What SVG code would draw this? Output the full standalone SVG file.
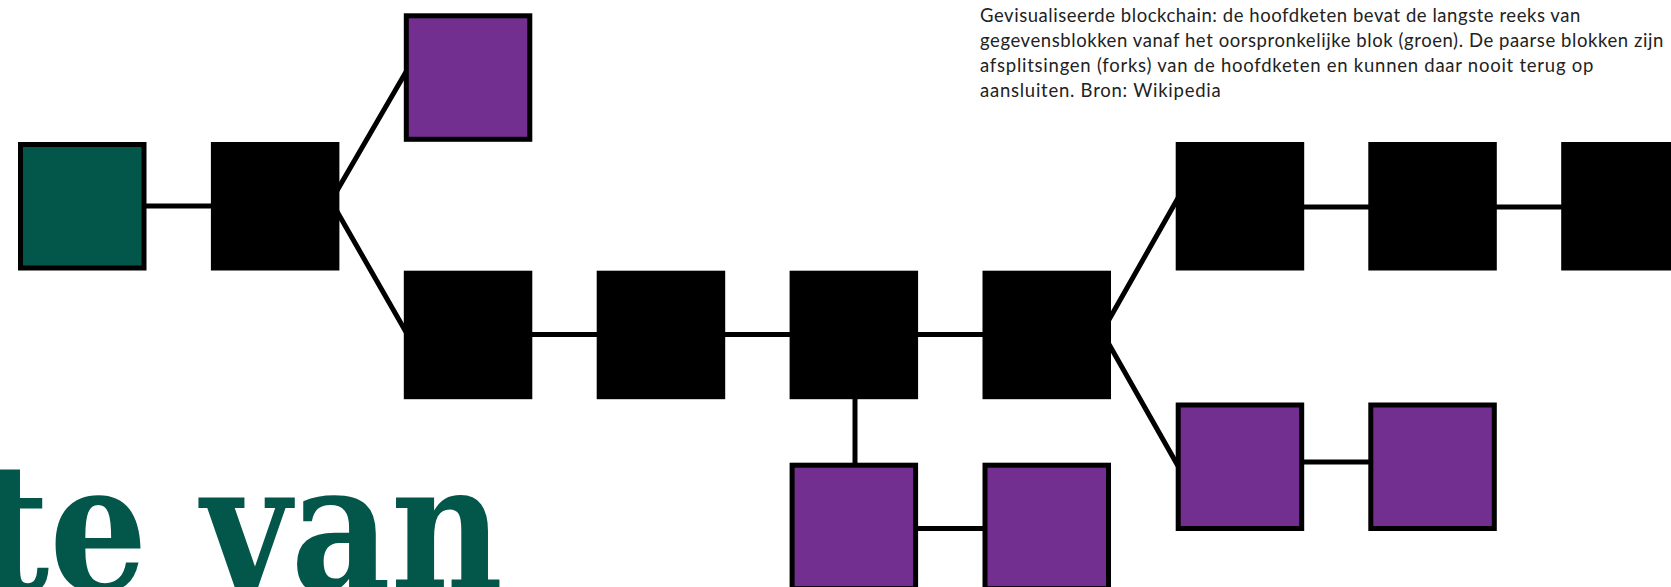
<svg xmlns="http://www.w3.org/2000/svg" width="1671" height="587" viewBox="0 0 1671 587">
  <style>
    .blk { stroke: #000; stroke-width: 5; }
    .main { fill: #000; }
    .fork { fill: #722f8f; }
    .gen { fill: #03574a; }
    .con { stroke: #000; stroke-width: 5; fill: none; }
    .cap { font-family: Lato, "Noto Sans", "Liberation Sans", sans-serif; font-size: 18.5px; letter-spacing: 0.75px; fill: #222; }
    .title { font-family: "DejaVu Serif", "Liberation Serif", serif; font-weight: bold; font-size: 178px; fill: #03574a; }
  </style>
  <rect width="1671" height="587" fill="#fff"/>

  <g id="title">
    <text class="title" x="-22" y="590" textLength="525" lengthAdjust="spacingAndGlyphs">te van</text>
  </g>

  <g id="caption">
    <text class="cap" x="980" y="22" textLength="601">Gevisualiseerde blockchain: de hoofdketen bevat de langste reeks van</text>
    <text class="cap" x="980" y="47" textLength="684">gegevensblokken vanaf het oorspronkelijke blok (groen). De paarse blokken zijn</text>
    <text class="cap" x="980" y="72">afsplitsingen (forks) van de hoofdketen en kunnen daar nooit terug op</text>
    <text class="cap" x="980" y="97">aansluiten. Bron: Wikipedia</text>
  </g>

  <g id="connectors">
    <line class="con" x1="146" y1="206" x2="212" y2="206"/>
    <path class="con" d="M 410 65 L 331 201 L 410 339"/>
    <line class="con" x1="532" y1="334.5" x2="598" y2="334.5"/>
    <line class="con" x1="725" y1="334.5" x2="791" y2="334.5"/>
    <line class="con" x1="918" y1="334.5" x2="984" y2="334.5"/>
    <line class="con" x1="855" y1="399" x2="855" y2="464"/>
    <line class="con" x1="917" y1="528.5" x2="984" y2="528.5"/>
    <path class="con" d="M 1182 191 L 1102 332 L 1182 473"/>
    <line class="con" x1="1304" y1="207" x2="1369" y2="207"/>
    <line class="con" x1="1496" y1="207" x2="1562" y2="207"/>
    <line class="con" x1="1303" y1="462" x2="1370" y2="462"/>
  </g>

  <g id="genesis"><rect class="blk gen" x="20.5" y="144.5" width="123.5" height="123.5"/></g>
  <g id="block2"><rect class="blk main" x="213.4" y="144.5" width="123.5" height="123.5"/></g>
  <g id="fork-top"><rect class="blk fork" x="406.3" y="15.8" width="123.5" height="123.5"/></g>
  <g id="block3"><rect class="blk main" x="406.3" y="273.2" width="123.5" height="123.5"/></g>
  <g id="block4"><rect class="blk main" x="599.2" y="273.2" width="123.5" height="123.5"/></g>
  <g id="block5"><rect class="blk main" x="792.1" y="273.2" width="123.5" height="123.5"/></g>
  <g id="block6"><rect class="blk main" x="985" y="273.2" width="123.5" height="123.5"/></g>
  <g id="fork-a1"><rect class="blk fork" x="792.1" y="465.2" width="123.5" height="123.5"/></g>
  <g id="fork-a2"><rect class="blk fork" x="985" y="465.2" width="123.5" height="123.5"/></g>
  <g id="block7"><rect class="blk main" x="1178.2" y="144.5" width="123.5" height="123.5"/></g>
  <g id="block8"><rect class="blk main" x="1370.8" y="144.5" width="123.5" height="123.5"/></g>
  <g id="block9"><rect class="blk main" x="1563.7" y="144.5" width="123.5" height="123.5"/></g>
  <g id="fork-b1"><rect class="blk fork" x="1178.2" y="405" width="123.5" height="123.5"/></g>
  <g id="fork-b2"><rect class="blk fork" x="1370.8" y="405" width="123.5" height="123.5"/></g>
</svg>
